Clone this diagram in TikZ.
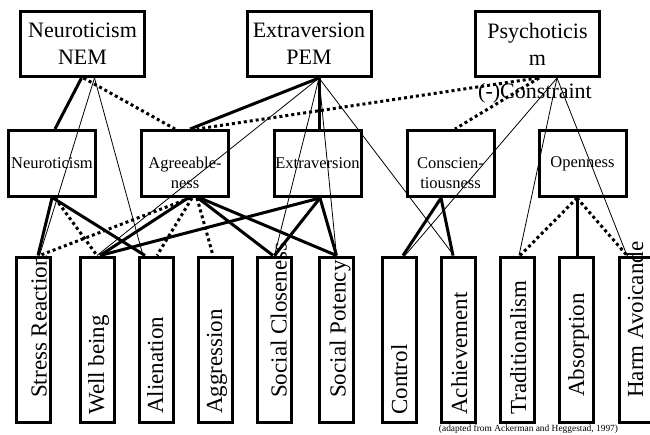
\documentclass[tikz,border=0pt]{standalone}
\usepackage{fontspec}
\setmainfont{Liberation Serif}

\begin{document}
\begin{tikzpicture}[x=1pt, y=-1pt,
    topbox/.style={draw, line width=3pt, minimum width=124pt, minimum height=65pt, inner sep=0pt, align=center, font=\fontsize{22}{27}\selectfont},
    midbox/.style={draw, line width=3pt, minimum width=87pt, minimum height=66pt, inner sep=0pt, font=\fontsize{16.5}{20.5}\selectfont},
    midtext/.style={inner sep=0pt, align=center, font=\fontsize{16.5}{20.5}\selectfont},
    facet/.style={draw, line width=3pt, minimum width=34pt, minimum height=165pt, inner sep=0pt},
    vtext/.style={rotate=90, anchor=base west, inner sep=0pt, font=\fontsize{23}{27}\selectfont},
    strong/.style={line width=3pt},
    weak/.style={line width=0.8pt},
    neg/.style={line width=3pt, dash pattern=on 3pt off 3pt}]

    \useasboundingbox (0,0) rectangle (650,434);

    % higher-order factors
    \node[topbox] (nem) at (82.5,44) {Neuroticism\\NEM};
    \node[topbox] (pem) at (309,44) {Extraversion\\PEM};
    \node[topbox] (psy) at (537.5,44) {Psychoticis\\m};
    \node[inner sep=0pt, anchor=base, font=\fontsize{22}{26}\selectfont] (constr) at (535,98) {(-)Constraint};

    % big five
    \node[midbox] (neu) at (52,163.5) {Neuroticism};
    \node[midbox] (agr) at (185,163.5) {};
    \node[midtext] (agr-t) at ([yshift=-9.5pt]agr.center) {Agreeable-\\ness};
    \node[midbox] (ext) at (317.5,163.5) {Extraversion};
    \node[midbox] (con) at (450.5,163.5) {};
    \node[midtext] (con-t) at ([yshift=-9.5pt]con.center) {Conscien-\\tiousness};
    \node[midbox] (opn) at (582.5,163.5) {Openness};

    % primary scales
    \node[facet] (stress) at (33.5,339.5) {};
    \node[facet] (well) at (97,339.5) {};
    \node[facet] (alien) at (156,339.5) {};
    \node[facet] (aggr) at (215,339.5) {};
    \node[facet] (sclose) at (274.5,339.5) {};
    \node[facet] (spot) at (336.5,339.5) {};
    \node[facet] (ctrl) at (399,339.5) {};
    \node[facet] (achv) at (458,339.5) {};
    \node[facet] (trad) at (517,339.5) {};
    \node[facet] (absb) at (576,339.5) {};
    \node[facet] (harm) at (636,339.5) {};

    \node[vtext] (stress-t) at (46.5,398) {Stress Reaction};
    \node[vtext] (well-t) at (104,415) {Well being};
    \node[vtext] (alien-t) at (163,414) {Alienation};
    \node[vtext] (aggr-t) at (222,414) {Aggression};
    \node[vtext] (sclose-t) at (286.5,398) {Social Closeness};
    \node[vtext] (spot-t) at (345.5,398) {Social Potency};
    \node[vtext] (ctrl-t) at (407,415) {Control};
    \node[vtext] (achv-t) at (467,415) {Achievement};
    \node[vtext] (trad-t) at (526,415) {Traditionalism};
    \node[vtext] (absb-t) at (584,397) {Absorption};
    \node[vtext] (harm-t) at (643,398) {Harm Avoicande};

    \node[inner sep=0pt, anchor=base, font=\fontsize{9.4}{11}\selectfont] (src) at (528.5,431) {(adapted from Ackerman and Heggestad, 1997)};

    % NEM
    \draw[strong] ([xshift=-1pt]nem.south) -- ([xshift=3pt]neu.north);
    \draw[neg] ([xshift=1pt]nem.south) -- ([xshift=-10pt]agr.north);
    \draw[weak] ([xshift=12pt]nem.south) -- ([xshift=6pt]stress.north);
    \draw[weak] ([xshift=12pt]nem.south) -- ([xshift=-13pt]alien.north);

    % PEM
    \draw[strong] ([xshift=10pt]pem.south) -- ([xshift=5pt]agr.north);
    \draw[strong] ([xshift=10pt]pem.south) -- ([xshift=1.5pt]ext.north);
    \draw[weak] ([xshift=10pt]pem.south) -- (well.north);
    \draw[weak] ([xshift=10pt]pem.south) -- (sclose.north);
    \draw[weak] ([xshift=10pt]pem.south) -- (spot.north);
    \draw[weak] ([xshift=10pt]pem.south) -- ([xshift=-4pt]achv.north);

    % Psychoticism
    \draw[neg] (psy.south) -- ([xshift=12pt]agr.north);
    \draw[neg] ([xshift=1.5pt]psy.south) -- ([xshift=4.5pt]con.north);
    \draw[weak] ([xshift=19.5pt]psy.south) -- ([xshift=6pt]ctrl.north);
    \draw[weak] ([xshift=19.5pt]psy.south) -- ([xshift=2pt]trad.north);
    \draw[weak] ([xshift=19.5pt]psy.south) -- ([xshift=-9pt]harm.north);

    % Neuroticism
    \draw[strong] (neu.south) -- ([xshift=4.5pt]stress.north);
    \draw[neg] ([xshift=3pt]neu.south) -- (well.north);
    \draw[strong] ([xshift=1pt]neu.south) -- ([xshift=-11pt]alien.north);

    % Agreeableness
    \draw[neg] ([xshift=5pt]agr.south) -- ([xshift=6pt]stress.north);
    \draw[strong] ([xshift=3pt]agr.south) -- ([xshift=3pt]well.north);
    \draw[neg] ([xshift=7pt]agr.south) -- ([xshift=1pt]alien.north);
    \draw[neg] ([xshift=12pt]agr.south) -- ([xshift=-2pt]aggr.north);
    \draw[strong] ([xshift=13pt]agr.south) -- ([xshift=-1.5pt]sclose.north);
    \draw[strong] ([xshift=15pt]agr.south) -- (spot.north);

    % Extraversion
    \draw[strong] ([xshift=2.5pt]ext.south) -- ([xshift=3pt]well.north);
    \draw[strong] ([xshift=2.5pt]ext.south) -- (sclose.north);
    \draw[strong] ([xshift=2.5pt]ext.south) -- (spot.north);

    % Conscientiousness
    \draw[strong] ([xshift=-9.5pt]con.south) -- ([xshift=4pt]ctrl.north);
    \draw[strong] ([xshift=-9.5pt]con.south) -- ([xshift=-5pt]achv.north);

    % Openness
    \draw[neg] ([xshift=-5.5pt]opn.south) -- ([xshift=3pt]trad.north);
    \draw[strong] ([xshift=-5.5pt]opn.south) -- ([xshift=1pt]absb.north);
    \draw[neg] ([xshift=-5.5pt]opn.south) -- ([xshift=-9pt]harm.north);

\end{tikzpicture}
\end{document}
